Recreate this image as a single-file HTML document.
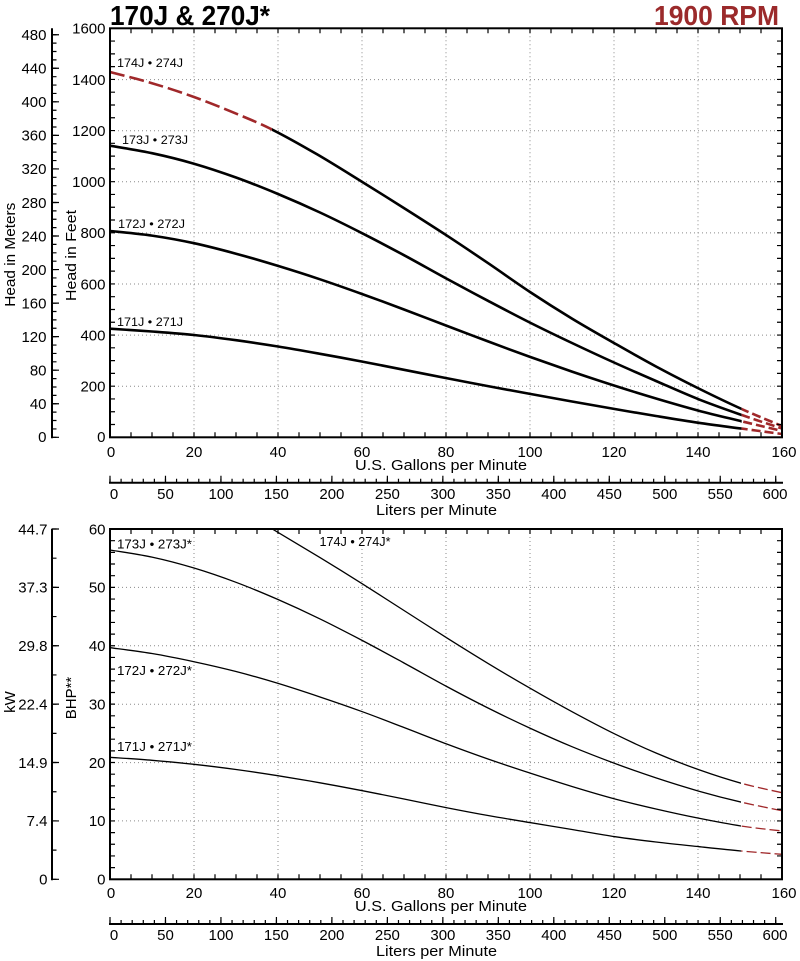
<!DOCTYPE html>
<html>
<head>
<meta charset="utf-8">
<style>
html,body{margin:0;padding:0;background:#fff}
svg{display:block}
text{font-family:"Liberation Sans",Arial,sans-serif;fill:#000}
</style>
</head>
<body>
<svg id="chart" width="800" height="961" viewBox="0 0 800 961" xmlns="http://www.w3.org/2000/svg">
<defs>
<clipPath id="cb"><rect x="110" y="529" width="672" height="350.3"/></clipPath>
<clipPath id="ct"><rect x="110" y="28.3" width="672" height="409"/></clipPath>
</defs>

<!-- Titles -->
<text x="110" y="25" font-size="28" font-weight="bold" textLength="160" lengthAdjust="spacingAndGlyphs">170J &amp; 270J*</text>
<text x="654" y="25" font-size="28" font-weight="bold" textLength="125" lengthAdjust="spacingAndGlyphs" style="fill:#9b2a2b">1900 RPM</text>

<!-- Grid -->
<g stroke="#8a8a8a" stroke-width="1" stroke-dasharray="1 3" fill="none">
<path d="M194 28.3V437.3M278 28.3V437.3M362 28.3V437.3M446 28.3V437.3M530 28.3V437.3M614 28.3V437.3M698 28.3V437.3M110 386.2H782M110 335.1H782M110 284H782M110 232.9H782M110 181.8H782M110 130.7H782M110 79.6H782"/>
<path d="M194 529V879.3M278 529V879.3M362 529V879.3M446 529V879.3M530 529V879.3M614 529V879.3M698 529V879.3M110 587.4H782M110 645.8H782M110 704.2H782M110 762.6H782M110 820.9H782"/>
</g>

<!-- Top curves -->
<g fill="none" stroke-linejoin="round" stroke-linecap="butt" clip-path="url(#ct)">
<polyline class="sm" stroke="#a0282a" stroke-width="2.6" stroke-dasharray="15 5" points="110,72 152,83.2 194,97 236,113.6 272,129.5 317,154.3"/>
<polyline class="sm" stroke="#000" stroke-width="2.6" points="236,113.6 272,129.5 317,154.3 362.3,182 404,208.1 446.3,235.2 488,263.1 530,292 572,318.6 614,343 656,366.5 698.7,388.5 741.7,409 782,426"/>
<polyline class="sm" stroke="#000" stroke-width="2.6" points="110,145.7 152,153.2 194,163.7 236,177.5 278,194 320,212.5 362.3,233.3 404,255.2 446.3,278.5 488,300.8 530,322.6 572,343 614,362.5 656,381 698.7,399.3 741.7,415 782,428.5"/>
<polyline class="sm" stroke="#000" stroke-width="2.6" points="110,231 152,235.6 194,243.2 236,253.7 278,265.9 320,279.3 362.3,294.1 404,309.5 446.3,325.6 488,341.4 530,356.9 572,371.6 614,385.5 656,398.5 698.7,410.7 741.7,421.3 782,431"/>
<polyline class="sm" stroke="#000" stroke-width="2.6" points="110,328.7 152,331.5 194,335 236,340.2 278,346.5 320,353.8 362.3,361.6 404,369.8 446.3,378.1 488,386.1 530,393.9 572,401.5 614,408.9 656,416 698.7,422.8 741.7,428.6 782,434"/>
</g>

<!-- Bottom curves -->
<g fill="none" stroke-linejoin="round" clip-path="url(#cb)">
<polyline class="sm" stroke="#000" stroke-width="1.3" points="230,503 272.3,529 320,557.6 362.3,583.8 404,610.5 446.7,637.8 488,663.4 530.7,688.6 572,711.7 615,734.1 656,753 699,769.8 741,783.2 782,792.7"/>
<polyline class="sm" stroke="#000" stroke-width="1.3" points="110,550 152,557.1 194,568 236,582.3 277.7,599.4 320,618.9 362.3,640.5 404,663 446.7,686.5 488,708 530.7,728.5 572,746.7 615,763.5 656,777.9 699,791.2 741,802.1 782,810.7"/>
<polyline class="sm" stroke="#000" stroke-width="1.3" points="110,647.7 152,653.5 194,661.7 236,671.5 277.7,683.3 320,697 362.3,711.7 404,727.5 446.7,744 488,759 530.7,773.3 572,786.5 615,799 656,809 699,818.3 741,826 782,831"/>
<polyline class="sm" stroke="#000" stroke-width="1.3" points="110,757.3 152,760.3 194,764.3 236,769.5 277.7,775.7 320,782.8 362.3,790.7 404,799 446.7,807.7 488,815.5 530.7,822.7 572,829.5 615,836.7 656,842 699,846.7 741,851 782,854.3"/>
</g>

<!-- Frames -->
<rect x="110" y="28.3" width="672" height="409" fill="none" stroke="#000" stroke-width="2"/>
<rect x="110" y="529" width="672" height="350.3" fill="none" stroke="#000" stroke-width="2"/>

<!-- Meters axis & kW axis lines -->
<path d="M52 28.3V438.3M52 529V880.3" stroke="#000" stroke-width="2" fill="none"/>
<!-- Liters axis lines -->
<path d="M109 482.7H783M109 924H783" stroke="#000" stroke-width="2" fill="none"/>

<!-- Ticks -->
<g fill="none" stroke="#000">
<path d="M54 437.9V30" stroke-width="5" stroke-dasharray="1.2 7.1867"/>
<path d="M55.5 437.9V30" stroke-width="7" stroke-dasharray="1.2 32.3467"/>
<path d="M112.5 437.9V29" stroke-width="5" stroke-dasharray="1.2 11.58125"/>
<path d="M779.5 437.9V29" stroke-width="5" stroke-dasharray="1.2 11.58125"/>
<path d="M130.4 434.8H770" stroke-width="5" stroke-dasharray="1.2 19.8"/>
<path d="M130.4 30.8H770" stroke-width="5" stroke-dasharray="1.2 19.8"/>
<path d="M109.4 480.7H782" stroke-width="4" stroke-dasharray="1.2 9.8952"/>
<path d="M109.4 479.2H782" stroke-width="7" stroke-dasharray="1.2 54.276"/>
<path d="M54 879.9V528" stroke-width="5" stroke-dasharray="1.2 27.9915"/>
<path d="M55.5 879.9V528" stroke-width="7" stroke-dasharray="1.2 57.183"/>
<path d="M112.5 879.9V530" stroke-width="5" stroke-dasharray="1.2 10.4767"/>
<path d="M779.5 879.9V530" stroke-width="5" stroke-dasharray="1.2 10.4767"/>
<path d="M130.4 876.8H770" stroke-width="5" stroke-dasharray="1.2 19.8"/>
<path d="M130.4 531.5H770" stroke-width="5" stroke-dasharray="1.2 19.8"/>
<path d="M109.4 922H782" stroke-width="4" stroke-dasharray="1.2 9.8952"/>
<path d="M109.4 920.5H782" stroke-width="7" stroke-dasharray="1.2 54.276"/>
</g>

<!-- Y labels -->
<g font-size="15" text-anchor="end">
<text x="46.5" y="40">480</text>
<text x="46.5" y="73.6">440</text>
<text x="46.5" y="107.1">400</text>
<text x="46.5" y="140.7">360</text>
<text x="46.5" y="174.2">320</text>
<text x="46.5" y="207.8">280</text>
<text x="46.5" y="241.3">240</text>
<text x="46.5" y="274.9">200</text>
<text x="46.5" y="308.4">160</text>
<text x="46.5" y="342">120</text>
<text x="46.5" y="375.5">80</text>
<text x="46.5" y="409">40</text>
<text x="46.5" y="442">0</text>
<text x="105.5" y="33.6">1600</text>
<text x="105.5" y="84.9">1400</text>
<text x="105.5" y="136">1200</text>
<text x="105.5" y="187.1">1000</text>
<text x="105.5" y="238.2">800</text>
<text x="105.5" y="289.3">600</text>
<text x="105.5" y="340.4">400</text>
<text x="105.5" y="391.5">200</text>
<text x="105.5" y="442">0</text>
<text x="47.5" y="534.3">44.7</text>
<text x="47.5" y="592.7">37.3</text>
<text x="47.5" y="651.1">29.8</text>
<text x="47.5" y="709.5">22.4</text>
<text x="47.5" y="767.9">14.9</text>
<text x="47.5" y="826.2">7.4</text>
<text x="47.5" y="884.6">0</text>
<text x="105.5" y="534.3">60</text>
<text x="105.5" y="592.7">50</text>
<text x="105.5" y="651.1">40</text>
<text x="105.5" y="709.5">30</text>
<text x="105.5" y="767.9">20</text>
<text x="105.5" y="826.2">10</text>
<text x="105.5" y="884.6">0</text>
</g>

<!-- X labels -->
<g font-size="15" text-anchor="middle">
<text x="111" y="457">0</text>
<text x="194" y="457">20</text>
<text x="278" y="457">40</text>
<text x="362" y="457">60</text>
<text x="446" y="457">80</text>
<text x="530" y="457">100</text>
<text x="614" y="457">120</text>
<text x="698" y="457">140</text>
<text x="784" y="457">160</text>
<text x="114" y="499">0</text>
<text x="165.5" y="499">50</text>
<text x="221" y="499">100</text>
<text x="276.4" y="499">150</text>
<text x="331.9" y="499">200</text>
<text x="387.4" y="499">250</text>
<text x="442.9" y="499">300</text>
<text x="498.3" y="499">350</text>
<text x="553.8" y="499">400</text>
<text x="609.3" y="499">450</text>
<text x="664.8" y="499">500</text>
<text x="720.2" y="499">550</text>
<text x="775" y="499">600</text>
<text x="111" y="898">0</text>
<text x="194" y="898">20</text>
<text x="278" y="898">40</text>
<text x="362" y="898">60</text>
<text x="446" y="898">80</text>
<text x="530" y="898">100</text>
<text x="614" y="898">120</text>
<text x="698" y="898">140</text>
<text x="784" y="898">160</text>
<text x="114" y="940">0</text>
<text x="165.5" y="940">50</text>
<text x="221" y="940">100</text>
<text x="276.4" y="940">150</text>
<text x="331.9" y="940">200</text>
<text x="387.4" y="940">250</text>
<text x="442.9" y="940">300</text>
<text x="498.3" y="940">350</text>
<text x="553.8" y="940">400</text>
<text x="609.3" y="940">450</text>
<text x="664.8" y="940">500</text>
<text x="720.2" y="940">550</text>
<text x="775" y="940">600</text>
</g>

<!-- Axis titles -->
<g font-size="15">
<text x="355" y="470" textLength="172" lengthAdjust="spacingAndGlyphs">U.S. Gallons per Minute</text>
<text x="376" y="515" textLength="121" lengthAdjust="spacingAndGlyphs">Liters per Minute</text>
<text x="355" y="911" textLength="172" lengthAdjust="spacingAndGlyphs">U.S. Gallons per Minute</text>
<text x="376" y="956" textLength="121" lengthAdjust="spacingAndGlyphs">Liters per Minute</text>
<text transform="translate(15,254.7) rotate(-90)" text-anchor="middle" textLength="104" lengthAdjust="spacingAndGlyphs">Head in Meters</text>
<text transform="translate(76,255.5) rotate(-90)" text-anchor="middle" textLength="91" lengthAdjust="spacingAndGlyphs">Head in Feet</text>
<text transform="translate(15,702) rotate(-90)" text-anchor="middle">kW</text>
<text transform="translate(76,698) rotate(-90)" text-anchor="middle">BHP**</text>
</g>

<!-- Curve labels -->
<g font-size="12">
<text x="117" y="67" textLength="66" lengthAdjust="spacingAndGlyphs">174J • 274J</text>
<text x="122" y="144" textLength="66" lengthAdjust="spacingAndGlyphs">173J • 273J</text>
<text x="118" y="228" textLength="67" lengthAdjust="spacingAndGlyphs">172J • 272J</text>
<text x="117" y="326" textLength="66" lengthAdjust="spacingAndGlyphs">171J • 271J</text>
</g>
<g font-size="12.5">
<text x="117" y="548.5" textLength="75" lengthAdjust="spacingAndGlyphs">173J • 273J*</text>
<text x="319.5" y="546" textLength="71" lengthAdjust="spacingAndGlyphs">174J • 274J*</text>
<text x="117" y="675" textLength="75" lengthAdjust="spacingAndGlyphs">172J • 272J*</text>
<text x="117" y="751" textLength="75" lengthAdjust="spacingAndGlyphs">171J • 271J*</text>
</g>
</svg>
<script>
(function(){
  var NS="http://www.w3.org/2000/svg";
  function parse(s){return s.trim().split(/\s+/).map(function(p){var a=p.split(",");return [parseFloat(a[0]),parseFloat(a[1])];});}
  function cr(pts){
    var d="M"+pts[0][0]+","+pts[0][1];
    var n=pts.length;
    for(var i=0;i<n-1;i++){
      var p0=pts[i-1]||pts[i],p1=pts[i],p2=pts[i+1],p3=pts[i+2]||pts[i+1];
      var c1x=p1[0]+(p2[0]-p0[0])/6,c1y=p1[1]+(p2[1]-p0[1])/6;
      var c2x=p2[0]-(p3[0]-p1[0])/6,c2y=p2[1]-(p3[1]-p1[1])/6;
      d+=" C"+c1x.toFixed(2)+","+c1y.toFixed(2)+" "+c2x.toFixed(2)+","+c2y.toFixed(2)+" "+p2[0]+","+p2[1];
    }
    return d;
  }
  var polys=document.querySelectorAll("polyline.sm");
  var svg=document.getElementById("chart");
  var defs=svg.querySelector("defs");
  function clipRect(id,x,y,w,h){
    var cp=document.createElementNS(NS,"clipPath");cp.setAttribute("id",id);
    var r=document.createElementNS(NS,"rect");r.setAttribute("x",x);r.setAttribute("y",y);r.setAttribute("width",w);r.setAttribute("height",h);
    cp.appendChild(r);defs.appendChild(cp);
  }
  clipRect("cSolidTop",272,0,469.7,961);
  clipRect("cSolidTopAll",0,0,741.7,961);
  clipRect("cTailTop",741.7,0,60,961);
  clipRect("cHeadTop",0,0,272,961);
  clipRect("cSolidBot",0,0,741,961);
  clipRect("cTailBot",741,0,60,961);
  for(var i=0;i<polys.length;i++){
    var pl=polys[i];
    var pts=parse(pl.getAttribute("points"));
    var d=cr(pts);
    var g=pl.parentNode;
    var sw=pl.getAttribute("stroke-width");
    var stroke=pl.getAttribute("stroke");
    var isTop=parseFloat(sw)>2;
    var isRedHead=(stroke!=="#000");
    function mk(st,dash,clip){
      var p=document.createElementNS(NS,"path");
      p.setAttribute("d",d);p.setAttribute("fill","none");
      p.setAttribute("stroke",st);p.setAttribute("stroke-width",sw);
      p.setAttribute("stroke-linejoin","round");
      if(dash)p.setAttribute("stroke-dasharray",dash);
      var wrap=document.createElementNS(NS,"g");
      if(clip)wrap.setAttribute("clip-path","url(#"+clip+")");
      wrap.appendChild(p);
      g.insertBefore(wrap,pl);
    }
    if(isTop){
      if(isRedHead){
        mk("#a0282a","15 5","cHeadTop");
      }else if(pts[0][0]>200){
        mk("#000",null,"cSolidTop");
        mk("#a0282a","9 4","cTailTop");
      }else{
        mk("#000",null,"cSolidTopAll");
        mk("#a0282a","9 4","cTailTop");
      }
    }else{
      mk("#000",null,"cSolidBot");
      mk("#a0282a","10 4","cTailBot");
    }
    g.removeChild(pl);
  }
})();
</script>
</body>
</html>
